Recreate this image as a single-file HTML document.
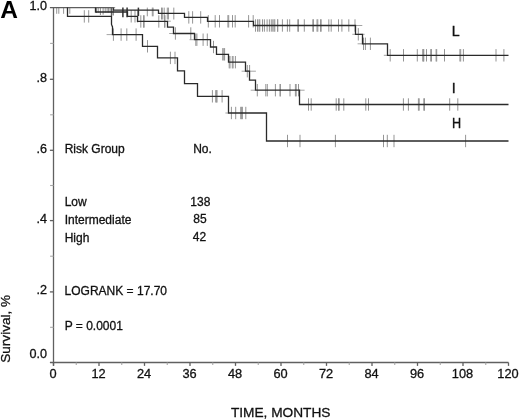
<!DOCTYPE html>
<html><head><meta charset="utf-8"><title>Survival</title>
<style>
html,body{margin:0;padding:0;background:#fff;}
body{width:520px;height:420px;overflow:hidden;font-family:"Liberation Sans",sans-serif;}
svg{display:block;will-change:transform;}
</style></head><body>
<svg width="520" height="420" viewBox="0 0 520 420">
<g stroke="#606060" stroke-width="1.3" fill="none">
<line x1="53.50" y1="7.60" x2="53.50" y2="365.70"/>
<line x1="49.90" y1="362.50" x2="508.50" y2="362.50"/>
<line x1="49.90" y1="291.90" x2="53.50" y2="291.90"/>
<line x1="49.90" y1="220.60" x2="53.50" y2="220.60"/>
<line x1="49.90" y1="150.30" x2="53.50" y2="150.30"/>
<line x1="49.90" y1="79.30" x2="53.50" y2="79.30"/>
<line x1="53.50" y1="362.50" x2="53.50" y2="365.90"/>
<line x1="99.00" y1="362.50" x2="99.00" y2="365.90"/>
<line x1="144.50" y1="362.50" x2="144.50" y2="365.90"/>
<line x1="190.00" y1="362.50" x2="190.00" y2="365.90"/>
<line x1="235.50" y1="362.50" x2="235.50" y2="365.90"/>
<line x1="281.00" y1="362.50" x2="281.00" y2="365.90"/>
<line x1="326.50" y1="362.50" x2="326.50" y2="365.90"/>
<line x1="372.00" y1="362.50" x2="372.00" y2="365.90"/>
<line x1="417.50" y1="362.50" x2="417.50" y2="365.90"/>
<line x1="463.00" y1="362.50" x2="463.00" y2="365.90"/>
<line x1="508.50" y1="362.50" x2="508.50" y2="365.90"/>
</g>
<g stroke="#a8a8a8" stroke-width="1.1" fill="none">
<line x1="50.10" y1="327.30" x2="53.50" y2="327.30"/>
<line x1="50.10" y1="256.20" x2="53.50" y2="256.20"/>
<line x1="50.10" y1="185.50" x2="53.50" y2="185.50"/>
<line x1="50.10" y1="114.80" x2="53.50" y2="114.80"/>
<line x1="50.10" y1="43.40" x2="53.50" y2="43.40"/>
<line x1="76.25" y1="362.50" x2="76.25" y2="365.10"/>
<line x1="121.75" y1="362.50" x2="121.75" y2="365.10"/>
<line x1="167.25" y1="362.50" x2="167.25" y2="365.10"/>
<line x1="212.75" y1="362.50" x2="212.75" y2="365.10"/>
<line x1="258.25" y1="362.50" x2="258.25" y2="365.10"/>
<line x1="303.75" y1="362.50" x2="303.75" y2="365.10"/>
<line x1="349.25" y1="362.50" x2="349.25" y2="365.10"/>
<line x1="394.75" y1="362.50" x2="394.75" y2="365.10"/>
<line x1="440.25" y1="362.50" x2="440.25" y2="365.10"/>
<line x1="485.75" y1="362.50" x2="485.75" y2="365.10"/>
</g>
<g stroke="#959595" stroke-width="1.0">
<line x1="56.70" y1="7.60" x2="56.70" y2="13.80"/>
<line x1="58.80" y1="7.60" x2="58.80" y2="13.80"/>
<line x1="63.60" y1="7.60" x2="63.60" y2="13.80"/>
<line x1="69.80" y1="7.60" x2="69.80" y2="13.80"/>
<line x1="147.30" y1="7.60" x2="147.30" y2="16.30"/>
<line x1="152.30" y1="7.60" x2="152.30" y2="16.30"/>
<line x1="153.10" y1="7.60" x2="153.10" y2="16.30"/>
<line x1="161.50" y1="7.60" x2="161.50" y2="19.50"/>
<line x1="162.30" y1="7.60" x2="162.30" y2="19.50"/>
<line x1="164.20" y1="7.60" x2="164.20" y2="19.50"/>
<line x1="167.30" y1="7.60" x2="167.30" y2="19.50"/>
<line x1="168.40" y1="7.60" x2="168.40" y2="19.50"/>
<line x1="173.80" y1="7.60" x2="173.80" y2="19.50"/>
<line x1="188.80" y1="11.20" x2="188.80" y2="23.60"/>
<line x1="192.60" y1="11.20" x2="192.60" y2="23.60"/>
<line x1="200.70" y1="11.20" x2="200.70" y2="23.60"/>
<line x1="208.30" y1="15.10" x2="208.30" y2="27.50"/>
<line x1="215.20" y1="15.10" x2="215.20" y2="27.50"/>
<line x1="219.50" y1="15.10" x2="219.50" y2="27.50"/>
<line x1="227.90" y1="15.10" x2="227.90" y2="27.50"/>
<line x1="228.70" y1="15.10" x2="228.70" y2="27.50"/>
<line x1="232.50" y1="15.10" x2="232.50" y2="27.50"/>
<line x1="235.20" y1="15.10" x2="235.20" y2="27.50"/>
<line x1="248.60" y1="15.10" x2="248.60" y2="27.50"/>
<line x1="253.20" y1="15.10" x2="253.20" y2="27.50"/>
<line x1="255.50" y1="19.30" x2="255.50" y2="31.70"/>
<line x1="257.50" y1="19.30" x2="257.50" y2="31.70"/>
<line x1="259.00" y1="19.30" x2="259.00" y2="31.70"/>
<line x1="259.80" y1="19.30" x2="259.80" y2="31.70"/>
<line x1="262.50" y1="19.30" x2="262.50" y2="31.70"/>
<line x1="264.40" y1="19.30" x2="264.40" y2="31.70"/>
<line x1="267.10" y1="19.30" x2="267.10" y2="31.70"/>
<line x1="269.40" y1="19.30" x2="269.40" y2="31.70"/>
<line x1="271.30" y1="19.30" x2="271.30" y2="31.70"/>
<line x1="272.80" y1="19.30" x2="272.80" y2="31.70"/>
<line x1="274.00" y1="19.30" x2="274.00" y2="31.70"/>
<line x1="274.80" y1="19.30" x2="274.80" y2="31.70"/>
<line x1="277.50" y1="19.30" x2="277.50" y2="31.70"/>
<line x1="277.80" y1="19.30" x2="277.80" y2="31.70"/>
<line x1="282.40" y1="19.30" x2="282.40" y2="31.70"/>
<line x1="287.40" y1="19.30" x2="287.40" y2="31.70"/>
<line x1="289.70" y1="19.30" x2="289.70" y2="31.70"/>
<line x1="297.80" y1="19.30" x2="297.80" y2="31.70"/>
<line x1="298.50" y1="19.30" x2="298.50" y2="31.70"/>
<line x1="304.30" y1="19.30" x2="304.30" y2="31.70"/>
<line x1="312.80" y1="19.30" x2="312.80" y2="31.70"/>
<line x1="313.50" y1="19.30" x2="313.50" y2="31.70"/>
<line x1="317.00" y1="19.30" x2="317.00" y2="31.70"/>
<line x1="317.80" y1="19.30" x2="317.80" y2="31.70"/>
<line x1="320.50" y1="19.30" x2="320.50" y2="31.70"/>
<line x1="321.20" y1="19.30" x2="321.20" y2="31.70"/>
<line x1="328.80" y1="19.30" x2="328.80" y2="31.70"/>
<line x1="331.20" y1="19.30" x2="331.20" y2="31.70"/>
<line x1="338.50" y1="19.30" x2="338.50" y2="31.70"/>
<line x1="341.90" y1="19.30" x2="341.90" y2="31.70"/>
<line x1="348.80" y1="19.30" x2="348.80" y2="31.70"/>
<line x1="355.00" y1="19.30" x2="355.00" y2="31.70"/>
<line x1="358.30" y1="28.10" x2="358.30" y2="40.50"/>
<line x1="363.50" y1="37.60" x2="363.50" y2="50.00"/>
<line x1="365.40" y1="37.60" x2="365.40" y2="50.00"/>
<line x1="370.40" y1="37.60" x2="370.40" y2="50.00"/>
<line x1="390.20" y1="49.10" x2="390.20" y2="61.50"/>
<line x1="403.50" y1="49.10" x2="403.50" y2="61.50"/>
<line x1="417.30" y1="49.10" x2="417.30" y2="61.50"/>
<line x1="422.70" y1="49.10" x2="422.70" y2="61.50"/>
<line x1="423.50" y1="49.10" x2="423.50" y2="61.50"/>
<line x1="423.80" y1="49.10" x2="423.80" y2="61.50"/>
<line x1="426.50" y1="49.10" x2="426.50" y2="61.50"/>
<line x1="430.70" y1="49.10" x2="430.70" y2="61.50"/>
<line x1="431.50" y1="49.10" x2="431.50" y2="61.50"/>
<line x1="436.10" y1="49.10" x2="436.10" y2="61.50"/>
<line x1="436.70" y1="49.10" x2="436.70" y2="61.50"/>
<line x1="444.50" y1="49.10" x2="444.50" y2="61.50"/>
<line x1="459.90" y1="49.10" x2="459.90" y2="61.50"/>
<line x1="460.70" y1="49.10" x2="460.70" y2="61.50"/>
<line x1="463.40" y1="49.10" x2="463.40" y2="61.50"/>
<line x1="496.00" y1="49.10" x2="496.00" y2="61.50"/>
<line x1="503.90" y1="49.10" x2="503.90" y2="61.50"/>
<line x1="131.20" y1="10.10" x2="131.20" y2="22.50"/>
<line x1="135.00" y1="10.10" x2="135.00" y2="22.50"/>
<line x1="137.70" y1="10.10" x2="137.70" y2="22.50"/>
<line x1="140.80" y1="15.25" x2="140.80" y2="27.65"/>
<line x1="143.50" y1="15.25" x2="143.50" y2="27.65"/>
<line x1="144.20" y1="15.25" x2="144.20" y2="27.65"/>
<line x1="158.80" y1="15.25" x2="158.80" y2="27.65"/>
<line x1="164.50" y1="15.25" x2="164.50" y2="27.65"/>
<line x1="165.00" y1="15.25" x2="165.00" y2="27.65"/>
<line x1="175.40" y1="27.30" x2="175.40" y2="39.70"/>
<line x1="190.80" y1="27.30" x2="190.80" y2="39.70"/>
<line x1="195.80" y1="33.50" x2="195.80" y2="45.90"/>
<line x1="196.90" y1="33.50" x2="196.90" y2="45.90"/>
<line x1="203.10" y1="33.50" x2="203.10" y2="45.90"/>
<line x1="207.30" y1="33.50" x2="207.30" y2="45.90"/>
<line x1="213.50" y1="40.80" x2="213.50" y2="53.20"/>
<line x1="222.70" y1="48.10" x2="222.70" y2="60.50"/>
<line x1="223.80" y1="48.10" x2="223.80" y2="60.50"/>
<line x1="224.60" y1="48.10" x2="224.60" y2="60.50"/>
<line x1="229.20" y1="56.00" x2="229.20" y2="68.40"/>
<line x1="230.00" y1="56.00" x2="230.00" y2="68.40"/>
<line x1="232.30" y1="56.00" x2="232.30" y2="68.40"/>
<line x1="233.10" y1="56.00" x2="233.10" y2="68.40"/>
<line x1="235.40" y1="56.00" x2="235.40" y2="68.40"/>
<line x1="247.30" y1="65.00" x2="247.30" y2="77.40"/>
<line x1="249.60" y1="65.00" x2="249.60" y2="77.40"/>
<line x1="257.30" y1="84.00" x2="257.30" y2="96.40"/>
<line x1="265.80" y1="84.00" x2="265.80" y2="96.40"/>
<line x1="267.30" y1="84.00" x2="267.30" y2="96.40"/>
<line x1="275.40" y1="84.00" x2="275.40" y2="96.40"/>
<line x1="280.00" y1="84.00" x2="280.00" y2="96.40"/>
<line x1="280.40" y1="84.00" x2="280.40" y2="96.40"/>
<line x1="290.00" y1="84.00" x2="290.00" y2="96.40"/>
<line x1="295.40" y1="84.00" x2="295.40" y2="96.40"/>
<line x1="296.20" y1="84.00" x2="296.20" y2="96.40"/>
<line x1="298.50" y1="84.00" x2="298.50" y2="96.40"/>
<line x1="308.50" y1="98.30" x2="308.50" y2="110.70"/>
<line x1="311.20" y1="98.30" x2="311.20" y2="110.70"/>
<line x1="336.20" y1="98.30" x2="336.20" y2="110.70"/>
<line x1="338.50" y1="98.30" x2="338.50" y2="110.70"/>
<line x1="339.20" y1="98.30" x2="339.20" y2="110.70"/>
<line x1="343.80" y1="98.30" x2="343.80" y2="110.70"/>
<line x1="365.80" y1="98.30" x2="365.80" y2="110.70"/>
<line x1="368.50" y1="98.30" x2="368.50" y2="110.70"/>
<line x1="403.40" y1="98.30" x2="403.40" y2="110.70"/>
<line x1="408.40" y1="98.30" x2="408.40" y2="110.70"/>
<line x1="418.40" y1="98.30" x2="418.40" y2="110.70"/>
<line x1="419.20" y1="98.30" x2="419.20" y2="110.70"/>
<line x1="423.80" y1="98.30" x2="423.80" y2="110.70"/>
<line x1="424.50" y1="98.30" x2="424.50" y2="110.70"/>
<line x1="449.70" y1="98.30" x2="449.70" y2="110.70"/>
<line x1="457.80" y1="98.30" x2="457.80" y2="110.70"/>
<line x1="84.30" y1="10.20" x2="84.30" y2="22.60"/>
<line x1="88.70" y1="10.20" x2="88.70" y2="22.60"/>
<line x1="113.40" y1="28.40" x2="113.40" y2="40.80"/>
<line x1="121.10" y1="28.40" x2="121.10" y2="40.80"/>
<line x1="126.80" y1="28.40" x2="126.80" y2="40.80"/>
<line x1="136.10" y1="28.40" x2="136.10" y2="40.80"/>
<line x1="147.50" y1="40.10" x2="147.50" y2="52.50"/>
<line x1="170.40" y1="51.70" x2="170.40" y2="64.10"/>
<line x1="175.00" y1="51.70" x2="175.00" y2="64.10"/>
<line x1="212.40" y1="90.10" x2="212.40" y2="102.50"/>
<line x1="215.70" y1="90.10" x2="215.70" y2="102.50"/>
<line x1="216.60" y1="90.10" x2="216.60" y2="102.50"/>
<line x1="217.00" y1="90.10" x2="217.00" y2="102.50"/>
<line x1="222.10" y1="90.10" x2="222.10" y2="102.50"/>
<line x1="231.40" y1="106.80" x2="231.40" y2="119.20"/>
<line x1="235.70" y1="106.80" x2="235.70" y2="119.20"/>
<line x1="240.70" y1="106.80" x2="240.70" y2="119.20"/>
<line x1="241.60" y1="106.80" x2="241.60" y2="119.20"/>
<line x1="242.40" y1="106.80" x2="242.40" y2="119.20"/>
<line x1="245.80" y1="106.80" x2="245.80" y2="119.20"/>
<line x1="287.50" y1="134.80" x2="287.50" y2="147.20"/>
<line x1="300.00" y1="134.80" x2="300.00" y2="147.20"/>
<line x1="335.40" y1="134.80" x2="335.40" y2="147.20"/>
<line x1="383.50" y1="134.80" x2="383.50" y2="147.20"/>
<line x1="387.30" y1="134.80" x2="387.30" y2="147.20"/>
<line x1="394.00" y1="134.80" x2="394.00" y2="147.20"/>
<line x1="465.60" y1="134.80" x2="465.60" y2="147.20"/>
</g>
<g stroke="#8c8c8c" stroke-width="1.0">
<line x1="96.50" y1="7.60" x2="96.50" y2="13.00"/>
<line x1="98.20" y1="7.60" x2="98.20" y2="12.60"/>
<line x1="100.40" y1="7.60" x2="100.40" y2="15.00"/>
<line x1="103.10" y1="7.60" x2="103.10" y2="14.60"/>
<line x1="105.20" y1="7.60" x2="105.20" y2="12.60"/>
<line x1="107.10" y1="7.60" x2="107.10" y2="12.60"/>
<line x1="108.60" y1="7.60" x2="108.60" y2="12.60"/>
<line x1="110.10" y1="7.60" x2="110.10" y2="12.60"/>
</g>
<g stroke="#555" stroke-width="1.1">
<line x1="111.40" y1="7.60" x2="111.40" y2="16.30"/>
<line x1="113.10" y1="7.60" x2="113.10" y2="15.50"/>
<line x1="113.5" y1="7.60" x2="115.2" y2="7.60" stroke="#999" stroke-width="1"/>
</g>
<g stroke="#333" stroke-width="1.5">
<line x1="122.90" y1="7.60" x2="122.90" y2="17.20"/>
<line x1="127.10" y1="7.60" x2="127.10" y2="17.20"/>
<line x1="138.40" y1="7.60" x2="138.40" y2="16.00"/>
</g>
<g stroke="#9a9a9a" stroke-width="0.9">
<line x1="352.30" y1="34.30" x2="364.60" y2="34.30"/>
<line x1="167.30" y1="21.20" x2="170.80" y2="21.20"/>
<line x1="169.20" y1="33.50" x2="173.80" y2="33.50"/>
<line x1="189.60" y1="39.70" x2="194.60" y2="39.70"/>
<line x1="241.60" y1="71.20" x2="255.90" y2="71.20"/>
<line x1="299.20" y1="90.20" x2="304.60" y2="90.20"/>
<line x1="106.60" y1="34.60" x2="112.50" y2="34.60"/>
<line x1="355.40" y1="25.50" x2="362.30" y2="25.50"/>
<line x1="357.60" y1="43.80" x2="362.60" y2="43.80"/>
<line x1="383.80" y1="55.30" x2="387.80" y2="55.30"/>
<line x1="225.40" y1="113.00" x2="228.60" y2="113.00"/>
<line x1="250.70" y1="90.20" x2="255.00" y2="90.20"/>
</g>
<g stroke="#2a2a2a" stroke-width="1.3" fill="none" stroke-linejoin="miter" stroke-linecap="butt">
<path d="M113.50 7.60 V10.10 H158.50 V13.30 H184.50 V17.40 H207.50 V21.30 H253.50 V25.50 H355.50 V34.30 H362.50 V43.80 H387.50 V55.30 H508.50"/>
<line x1="49.90" y1="7.60" x2="114.10" y2="7.60" stroke="#5e5e5e" stroke-width="1.25"/>
<path d="M95.50 7.60 V12.00 H127.50 V16.30 H137.50 V21.45 H167.50 V27.10 H173.50 V33.50 H194.50 V39.70 H210.50 V47.00 H216.50 V54.30 H228.50 V62.20 H245.50 V71.20 H249.50 V80.20 H255.50 V90.20 H299.50 V104.50 H508.50"/>
<path d="M67.50 7.60 V16.40 H111.50 V24.40 L112.50 26.90 H112.50 V34.60 H142.50 V46.30 H157.50 V57.90 H177.50 V70.80 H184.50 V83.60 H197.50 V96.30 H228.50 V113.00 H266.50 V141.00 H508.50"/>
</g>
<g font-family="'Liberation Sans', sans-serif" font-size="12.6" fill="#111" stroke="#111" stroke-width="0.3">
<text x="47.0" y="358.40" text-anchor="end">0.0</text>
<text x="47.0" y="294.40" text-anchor="end">.2</text>
<text x="47.0" y="223.40" text-anchor="end">.4</text>
<text x="47.0" y="153.00" text-anchor="end">.6</text>
<text x="47.0" y="82.00" text-anchor="end">.8</text>
<text x="47.0" y="10.20" text-anchor="end">1.0</text>
</g>
<g font-family="'Liberation Sans', sans-serif" font-size="12.8" fill="#111" stroke="#111" stroke-width="0.3">
<text x="53.00" y="377.8" text-anchor="middle">0</text>
<text x="98.50" y="377.8" text-anchor="middle">12</text>
<text x="144.00" y="377.8" text-anchor="middle">24</text>
<text x="189.50" y="377.8" text-anchor="middle">36</text>
<text x="235.00" y="377.8" text-anchor="middle">48</text>
<text x="280.50" y="377.8" text-anchor="middle">60</text>
<text x="326.00" y="377.8" text-anchor="middle">72</text>
<text x="371.50" y="377.8" text-anchor="middle">84</text>
<text x="417.00" y="377.8" text-anchor="middle">96</text>
<text x="462.50" y="377.8" text-anchor="middle">108</text>
<text x="508.00" y="377.8" text-anchor="middle">120</text>
</g>
<g font-family="'Liberation Sans', sans-serif" font-size="13.3" fill="#111" stroke="#111" stroke-width="0.3">
<text x="280.7" y="416.9" text-anchor="middle" font-size="13.7">TIME, MONTHS</text>
<text transform="translate(10.0,328.8) rotate(-90)" text-anchor="middle" font-size="13.6">Survival, %</text>
</g>
<g font-family="'Liberation Sans', sans-serif" font-size="12" fill="#111" stroke="#111" stroke-width="0.3">
<text x="64.7" y="153.0">Risk Group</text>
<text x="193.2" y="153.0">No.</text>
<text x="64.7" y="205.7">Low</text>
<text x="64.7" y="223.7">Intermediate</text>
<text x="64.7" y="241.5">High</text>
<text x="200.3" y="205.7" text-anchor="middle">138</text>
<text x="200" y="223.4" text-anchor="middle">85</text>
<text x="199.5" y="240.9" text-anchor="middle">42</text>
<text x="64.6" y="294.5">LOGRANK = 17.70</text>
<text x="64.7" y="329.8">P = 0.0001</text>
</g>
<g font-family="'Liberation Sans', sans-serif" font-size="14.2" fill="#111" stroke="#111" stroke-width="0.35">
<text x="451.8" y="35.9">L</text>
<text x="451.8" y="92.8">I</text>
<text transform="translate(452.1,127.6) scale(0.89,1)">H</text>
</g>
<text x="0.2" y="17.8" font-family="'Liberation Sans', sans-serif" font-size="24.5" font-weight="bold" fill="#000">A</text>
</svg>
</body></html>
